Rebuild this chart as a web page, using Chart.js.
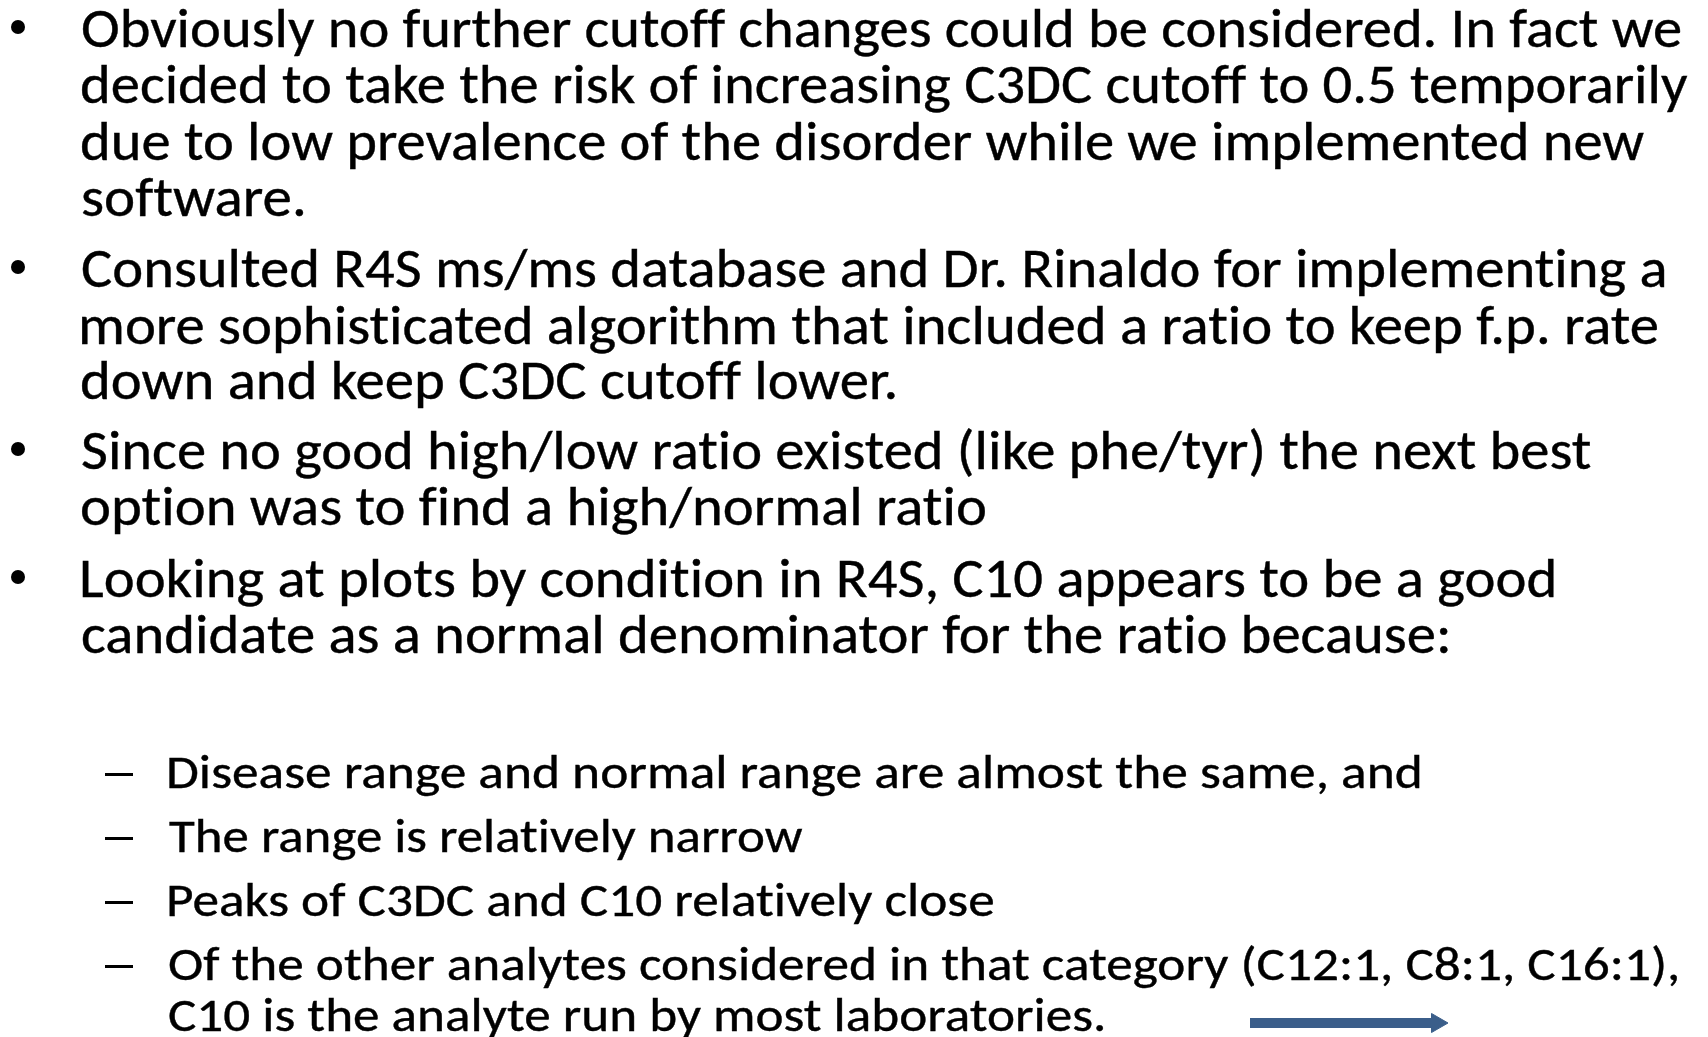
<!DOCTYPE html>
<html>
<head>
<meta charset="utf-8">
<script src="https://cdn.jsdelivr.net/npm/chart.js@4/dist/chart.umd.min.js"></script>
<style>
  html, body { margin: 0; padding: 0; background: #fff; }
  #slide { position: relative; width: 1708px; height: 1037px; overflow: hidden; background: #fff; }
  .line { position: absolute; white-space: nowrap; color: #000; line-height: 0; height: 0; transform-origin: 0 0;
          font-variant-ligatures: none; -webkit-text-stroke: 0.4px #000; }
  .dot { position: absolute; width: 14px; height: 14px; border-radius: 50%; background: #000; }
  .dash { position: absolute; width: 28px; height: 3px; background: #000; }
  #arrowChart { position: absolute; left: 0; top: 0; pointer-events: none; }
</style>
</head>
<body>
<div id="slide">
  <canvas id="arrowChart" width="1708" height="1037"></canvas>
</div>
<script>
const mainBullets = [
    ['Obviously no further cutoff changes could be considered. In fact we',
     'decided to take the risk of increasing C3DC cutoff to 0.5 temporarily',
     'due to low prevalence of the disorder while we implemented new',
     'software.'],
    ['Consulted R4S ms/ms database and Dr. Rinaldo for implementing a',
     'more sophisticated algorithm that included a ratio to keep f.p. rate',
     'down and keep C3DC cutoff lower.'],
    ['Since no good high/low ratio existed (like phe/tyr) the next best',
     'option was to find a high/normal ratio'],
    ['Looking at plots by condition in R4S, C10 appears to be a good',
     'candidate as a normal denominator for the ratio because:']
];
const subBullets = [
    ['Disease range and normal range are almost the same, and'],
    ['The range is relatively narrow'],
    ['Peaks of C3DC and C10 relatively close'],
    ['Of the other analytes considered in that category (C12:1, C8:1, C16:1),',
     'C10 is the analyte run by most laboratories.']
];

// arrow in slide units
const arrowX = [1250, 1437];
const arrowY = [1023, 1023];

// layout (px)
const mainBaselines = [[47, 103, 160, 216], [287, 344, 399], [469, 525], [597, 653]];
const mainRights = [[1679, 1687, 1644, 302], [1664, 1656, 894], [1590, 984], [1553, 1447]];
const subBaselines = [[788], [852], [916], [980, 1031]];
const subRights = [[1419], [802], [992], [1677, 1103]];
const mainLeft = 82, subLeft = 169;
const mainCap = 36.5, subCap = 31;
const fontFamily = 'Carlito, Lato, "Open Sans", sans-serif';

const slide = document.getElementById('slide');
const mctx = document.createElement('canvas').getContext('2d');

function placeLine(text, left, baseline, right, cap) {
    mctx.font = '100px ' + fontFamily;
    const capRatio = mctx.measureText('H').actualBoundingBoxAscent / 100;
    const size = cap / capRatio;
    mctx.font = size + 'px ' + fontFamily;
    const m = mctx.measureText(text);
    const ink = m.actualBoundingBoxLeft + m.actualBoundingBoxRight;
    const sx = (right - left) / ink;
    const a = m.fontBoundingBoxAscent, d = m.fontBoundingBoxDescent;

    const div = document.createElement('div');
    div.className = 'line';
    div.textContent = text;
    div.style.fontFamily = fontFamily;
    div.style.fontSize = size + 'px';
    div.style.left = (left + m.actualBoundingBoxLeft * sx) + 'px';
    div.style.top = (baseline - (a - d) / 2) + 'px';
    div.style.transform = 'scaleX(' + sx + ')';
    slide.appendChild(div);
}

function addMark(cls, x, y) {
    const el = document.createElement('div');
    el.className = cls;
    el.style.left = x + 'px';
    el.style.top = y + 'px';
    slide.appendChild(el);
}

function buildText() {
    mainBullets.forEach((para, p) => {
        addMark('dot', 11, mainBaselines[p][0] - 20 - 7);
        para.forEach((t, i) => placeLine(t, mainLeft, mainBaselines[p][i], mainRights[p][i], mainCap));
    });
    subBullets.forEach((para, p) => {
        addMark('dash', 105, subBaselines[p][0] - 14 - 1.5);
        para.forEach((t, i) => placeLine(t, subLeft, subBaselines[p][i], subRights[p][i], subCap));
    });
}

function buildArrow() {
    new Chart(document.getElementById('arrowChart'), {
        type: 'line',
        data: {
            datasets: [{
                data: arrowX.map((x, i) => ({ x: x, y: arrowY[i] })),
                borderColor: '#3b5e8a',
                borderWidth: 10,
                borderCapStyle: 'butt',
                pointRadius: [0, 11],
                pointStyle: 'triangle',
                pointRotation: 90,
                pointBackgroundColor: '#3b5e8a',
                pointBorderColor: '#3b5e8a',
                pointBorderWidth: 1,
                clip: false
            }]
        },
        options: {
            responsive: false,
            animation: false,
            events: [],
            layout: { padding: 0, autoPadding: false },
            plugins: { legend: { display: false }, tooltip: { enabled: false } },
            scales: {
                x: { type: 'linear', display: false, min: 0, max: 1708 },
                y: { type: 'linear', display: false, min: 0, max: 1037, reverse: true }
            }
        }
    });
}

buildArrow();
document.fonts.ready.then(buildText);
</script>
</body>
</html>
